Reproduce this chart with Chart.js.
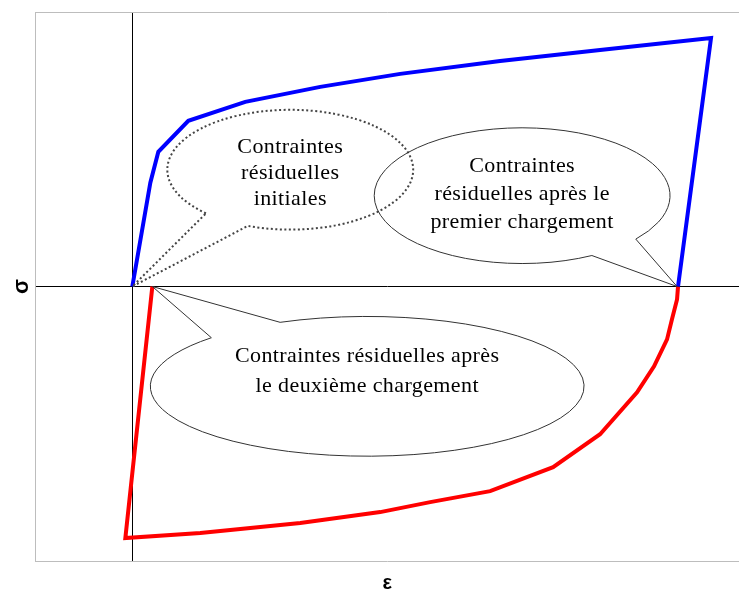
<!DOCTYPE html>
<html>
<head>
<meta charset="utf-8">
<script src="https://cdn.jsdelivr.net/npm/chart.js@4.4.0/dist/chart.umd.min.js"></script>
<style>
  html, body { margin: 0; padding: 0; background: #fff; }
  #c { display: block; }
</style>
</head>
<body>
<canvas id="c" width="739" height="595"></canvas>
<script>
// ---- Data (ε, σ in arbitrary units) ----
const firstLoadEps   = [0, 0.18, 0.26, 0.56, 1.13, 1.88, 2.68, 3.68, 4.68, 5.79, 5.46];
const firstLoadSigma = [0, 0.416, 0.54, 0.664, 0.74, 0.80, 0.852, 0.904, 0.948, 0.996, 0];

const secondLoadEps   = [5.46, 5.45, 5.40, 5.35, 5.22, 5.05, 4.68, 4.21, 3.58, 2.98, 2.48, 1.68, 0.68, -0.07, 0.20];
const secondLoadSigma = [0, -0.052, -0.13, -0.212, -0.32, -0.424, -0.592, -0.724, -0.82, -0.864, -0.904, -0.948, -0.988, -1.008, 0];

const axisLabelX = 'ε';
const axisLabelY = 'σ';

const calloutInitial = ['Contraintes', 'résiduelles', 'initiales'];
const calloutFirst   = ['Contraintes', 'résiduelles après le', 'premier chargement'];
const calloutSecond  = ['Contraintes résiduelles après', 'le deuxième chargement'];

// callout geometry in data units
const callouts = [
  { lines: calloutInitial, cx: 1.58, cy: 0.468, rx: 1.23, ry: 0.24,
    b1: [0.75, 0.296], b2: [1.15, 0.24], tip: [0, 0],
    textY: 0.452, lineGap: 26, dotted: true },
  { lines: calloutFirst, cx: 3.90, cy: 0.364, rx: 1.48, ry: 0.272,
    b1: [5.05, 0.188], b2: [4.61, 0.12], tip: [5.45, 0],
    textY: 0.368, lineGap: 28, dotted: false },
  { lines: calloutSecond, cx: 2.35, cy: -0.40, rx: 2.17, ry: 0.28,
    b1: [0.78, -0.204], b2: [1.48, -0.144], tip: [0.20, 0],
    textY: -0.34, lineGap: 30, dotted: false }
];

const toPts = (xs, ys) => xs.map((x, i) => ({ x: x, y: ys[i] }));

const decorPlugin = {
  id: 'decor',
  beforeDatasetsDraw(chart) {
    const { ctx, chartArea: a } = chart;
    ctx.save();
    ctx.strokeStyle = '#bdbdbd';
    ctx.lineWidth = 1;
    ctx.beginPath();
    ctx.moveTo(a.left, a.top + 0.5);
    ctx.lineTo(a.right, a.top + 0.5);
    ctx.stroke();
    ctx.restore();
  },
  afterDatasetsDraw(chart) {
    const { ctx } = chart;
    const xs = chart.scales.x, ys = chart.scales.y;
    const px = v => xs.getPixelForValue(v), py = v => ys.getPixelForValue(v);
    callouts.forEach(c => {
      const cx = px(c.cx), cy = py(c.cy);
      const rx = px(c.cx + c.rx) - cx, ry = py(c.cy - c.ry) - cy;
      const ang = p => Math.atan2((py(p[1]) - cy) / ry, (px(p[0]) - cx) / rx);
      let a1 = ang(c.b1), a2 = ang(c.b2);
      const fwd = ((a2 - a1) % (2 * Math.PI) + 2 * Math.PI) % (2 * Math.PI);
      if (fwd < Math.PI) { const t = a1; a1 = a2; a2 = t; }
      ctx.save();
      ctx.beginPath();
      ctx.ellipse(cx, cy, rx, ry, 0, a1, a2, false);
      ctx.lineTo(px(c.tip[0]), py(c.tip[1]));
      ctx.closePath();
      if (c.dotted) {
        ctx.strokeStyle = '#444';
        ctx.lineWidth = 2;
        ctx.setLineDash([2, 2.5]);
      } else {
        ctx.strokeStyle = '#333';
        ctx.lineWidth = 1;
      }
      ctx.stroke();
      ctx.setLineDash([]);
      ctx.fillStyle = '#000';
      ctx.font = '22px "Liberation Serif", "Times New Roman", serif';
      if ('letterSpacing' in ctx) ctx.letterSpacing = '0.4px';
      ctx.textAlign = 'center';
      ctx.textBaseline = 'middle';
      const ty = py(c.textY);
      const n = c.lines.length;
      c.lines.forEach((t, i) => {
        ctx.fillText(t, cx, ty + (i - (n - 1) / 2) * c.lineGap);
      });
      ctx.restore();
    });
  }
};

const zeroLine = ctx => (ctx.tick && Math.abs(ctx.tick.value) < 1e-9) ? '#000' : 'rgba(0,0,0,0)';

new Chart(document.getElementById('c'), {
  type: 'scatter',
  data: {
    datasets: [
      { label: 'premier chargement', data: toPts(firstLoadEps, firstLoadSigma),
        showLine: true, borderColor: '#0000ff', backgroundColor: '#0000ff',
        borderWidth: 4, pointRadius: 0, tension: 0, fill: false, clip: false },
      { label: 'deuxième chargement', data: toPts(secondLoadEps, secondLoadSigma),
        showLine: true, borderColor: '#ff0000', backgroundColor: '#ff0000',
        borderWidth: 4, pointRadius: 0, tension: 0, fill: false, clip: false }
    ]
  },
  options: {
    responsive: false,
    animation: false,
    events: [],
    layout: { padding: { left: 6, top: 12, right: 0, bottom: 0 } },
    plugins: { legend: { display: false }, tooltip: { enabled: false } },
    scales: {
      x: {
        type: 'linear', min: -0.97, max: 6.07,
        ticks: { display: false, stepSize: 1 },
        grid: { drawTicks: false, color: zeroLine, lineWidth: 1 },
        border: { display: true, color: '#bdbdbd', width: 1 },
        title: { display: true, text: axisLabelX, color: '#000',
                 font: { family: '"Liberation Sans", Arial, sans-serif', size: 20, weight: 'bold' },
                 padding: { top: 10, bottom: 0 } }
      },
      y: {
        type: 'linear', min: -1.1, max: 1.1,
        ticks: { display: false, stepSize: 0.5 },
        grid: { drawTicks: false, color: zeroLine, lineWidth: 1 },
        border: { display: true, color: '#bdbdbd', width: 1 },
        title: { display: true, text: axisLabelY, color: '#000',
                 font: { family: '"Liberation Sans", Arial, sans-serif', size: 22, weight: 'bold' },
                 padding: { top: 3, bottom: 0 } }
      }
    }
  },
  plugins: [decorPlugin]
});
</script>
</body>
</html>
